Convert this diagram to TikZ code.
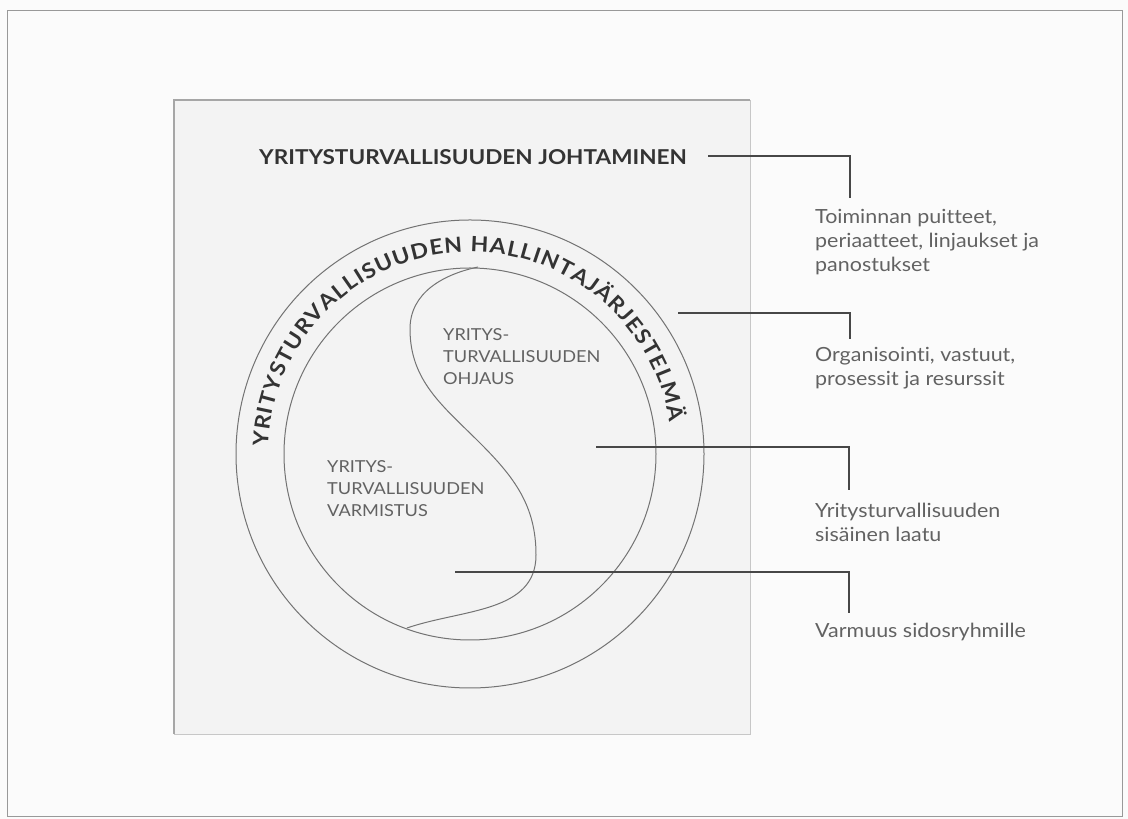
\documentclass[tikz,border=0pt]{standalone}
\usepackage{fontspec}
\setmainfont{Lato}[Ligatures=NoCommon]
\newfontfamily\widefont{Lato}[FakeStretch=1.1,Ligatures=NoCommon]
\usetikzlibrary{decorations.text}
\definecolor{bg}{HTML}{FBFBFB}
\definecolor{paper}{HTML}{F3F3F3}
\definecolor{ink}{HTML}{333333}
\definecolor{soft}{HTML}{626262}
\begin{document}
\begin{tikzpicture}[x=1pt,y=1pt,
  frame/.style={draw=black!40, line width=0.8pt},
  ring/.style={draw=black!55, line width=1pt},
  conn/.style={draw=black!72, line width=1.4pt},
  title/.style={inner sep=0pt, text=ink, font=\widefont\bfseries\fontsize{20.5}{21}\selectfont},
  sidelabel/.style={anchor=base west, align=left, inner sep=0pt, text=soft, font=\widefont\fontsize{19.5}{24}\selectfont},
  innerlabel/.style={anchor=base west, align=left, inner sep=0pt, text=soft, font=\widefont\fontsize{16.5}{22}\selectfont},
]
\useasboundingbox (0,0) rectangle (1128,819);
\fill[bg] (0,0) rectangle (1128,819);
\draw[frame] (7,3) rectangle (1122,809);
% paper sheet
\fill[paper] (174,85) rectangle (750,719);
\draw[black!22, line width=0.8pt] (174,85) -- (750,85) -- (750,719);
\draw[black!35, line width=2.5pt] (174,85) -- (174,719) -- (750,719);
% circles
\coordinate (C) at (470,365);
\draw[ring] (C) circle (234);
\draw[ring] (C) circle (186);
% S curve
\coordinate (S0) at (478,552);
\coordinate (S1) at (410,490);
\coordinate (S2) at (480,376);
\coordinate (S3) at (536,264);
\coordinate (S4) at (407,191);
\draw[ring] (S0) to[out=192,in=90] (S1) to[out=-90,in=135] (S2)
  to[out=-45,in=90] (S3) to[out=-90,in=19] (S4);
% curved text
\path[decorate, decoration={text along path,
  text={|\widefont\bfseries\fontsize{21}{21}\selectfont\color{ink}|YRITYSTURVALLISUUDEN HALLINTAJÄRJESTELMÄ},
  text align={fit to path}}]
  ([shift={(178:202)}]C) arc[start angle=178, end angle=9, radius=202];
% title
\node[title] (title) at (473,662) {YRITYSTURVALLISUUDEN JOHTAMINEN};
% inner labels (anchor = baseline of last line)
\node[innerlabel] (ohjaus) at (443,434) {YRITYS-\\TURVALLISUUDEN\\OHJAUS};
\node[innerlabel] (varmistus) at (327,302) {YRITYS-\\TURVALLISUUDEN\\VARMISTUS};
% side labels
\node[sidelabel] (l1) at (815,547) {Toiminnan puitteet,\\periaatteet, linjaukset ja\\panostukset};
\node[sidelabel] (l2) at (815,433) {Organisointi, vastuut,\\prosessit ja resurssit};
\node[sidelabel] (l3) at (815,277) {Yritysturvallisuuden\\sisäinen laatu};
\node[sidelabel] (l4) at (815,181) {Varmuus sidosryhmille};
% connectors
\coordinate (a1) at (708,663); \coordinate (b1) at (850,621);
\coordinate (a2) at (678,506); \coordinate (b2) at (850,480);
\coordinate (a3) at (596,372); \coordinate (b3) at (849,329);
\coordinate (a4) at (455,247); \coordinate (b4) at (849,206);
\draw[conn] (a1) -| (b1);
\draw[conn] (a2) -| (b2);
\draw[conn] (a3) -| (b3);
\draw[conn] (a4) -| (b4);
\end{tikzpicture}
\end{document}
